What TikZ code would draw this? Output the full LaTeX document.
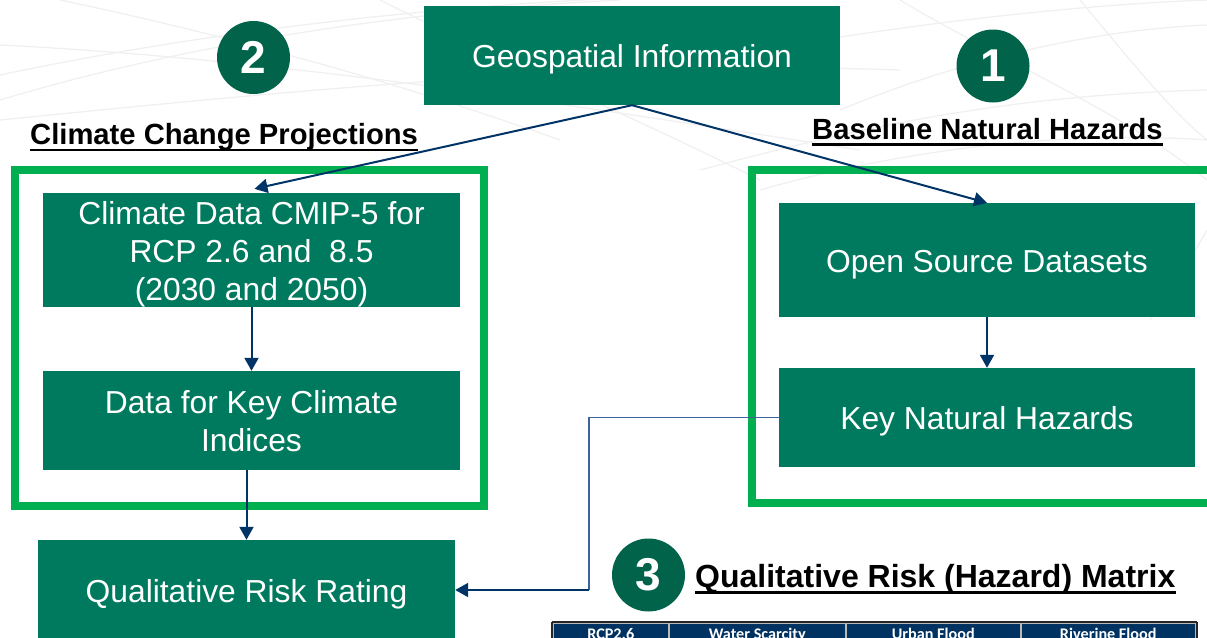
\documentclass[tikz,border=0pt]{standalone}
\usepackage{fontspec}
\setmainfont{Liberation Sans}
\newfontfamily\cellfont{Carlito}
\usetikzlibrary{arrows.meta,calc}

\definecolor{boxgreen}{RGB}{0,122,94}
\definecolor{circlegreen}{RGB}{0,99,74}
\definecolor{framegreen}{RGB}{0,176,80}
\definecolor{navy}{RGB}{0,51,102}
\definecolor{linkblue}{RGB}{60,100,152}
\definecolor{tablenavy}{RGB}{0,50,98}

% box caption: centred lines, set a little lower than the geometric centre
\newcommand\boxtext[1]{\raisebox{-4.5pt}[\height][\depth]{%
  \begin{tabular}{@{}c@{}}#1\end{tabular}}}

\begin{document}
\begin{tikzpicture}[x=1pt,y=-1pt,
  box/.style={fill=boxgreen,text=white,inner sep=0pt,
    font=\fontsize{31.8}{38}\selectfont},
  frame/.style={draw=framegreen,line width=8pt},
  numcirc/.style={circle,fill=circlegreen,minimum size=73pt,inner sep=0pt,
    text=white,font=\bfseries\fontsize{46}{46}\selectfont},
  heading/.style={inner sep=0pt,anchor=base west,font=\bfseries\fontsize{29.2}{35}\selectfont},
  uline/.style={draw=black,line width=2.6pt},
  arr/.style={draw=navy,line width=2pt,-{Triangle[length=13pt,width=14pt]}},
  link/.style={draw=linkblue,line width=1.3pt},
  cell/.style={fill=tablenavy,draw=gray!55,line width=1.5pt,anchor=north west,
    minimum height=23pt,inner sep=0pt,text depth=0pt,text=white,
    font=\cellfont\bfseries\fontsize{16.2}{16}\selectfont},
  swirl/.style={draw=gray!12,line width=1.3pt}]

\useasboundingbox (0,0) rectangle (1207,637);
\clip (0,0) rectangle (1207,637);

% faint sweeping lines in the page background
\draw[swirl] (0,100) .. controls (200,40) and (420,10) .. (620,0);
\draw[swirl] (0,75) .. controls (260,20) and (520,0) .. (700,-5);
\draw[swirl] (0,45) .. controls (300,60) and (600,110) .. (860,150);
\draw[swirl] (60,0) .. controls (250,40) and (420,90) .. (560,140);
\draw[swirl] (0,120) .. controls (300,90) and (600,60) .. (900,70);
\draw[swirl] (380,0) .. controls (500,60) and (640,120) .. (760,180);
\draw[swirl] (820,40) .. controls (950,20) and (1080,5) .. (1207,0);
\draw[swirl] (840,110) .. controls (960,60) and (1090,30) .. (1207,25);
\draw[swirl] (900,0) .. controls (1000,60) and (1120,110) .. (1207,180);
\draw[swirl] (1080,0) .. controls (1130,60) and (1170,110) .. (1207,140);
\draw[swirl] (760,190) .. controls (900,150) and (1060,130) .. (1207,140);
\draw[swirl] (1150,320) .. controls (1180,280) and (1195,250) .. (1207,230);
\draw[swirl] (700,170) .. controls (850,130) and (1000,95) .. (1207,90);

% group frames
\draw[frame] (15,170) rectangle (484,506);
\draw[frame] (752,170) rectangle (1220,503);

% process boxes
\node[box,minimum width=416pt,minimum height=99pt] (geo) at (632,55.5)
  {\boxtext{Geospatial Information}};
\node[box,minimum width=417pt,minimum height=114pt] (cmip) at (251.5,250)
  {\boxtext{Climate Data CMIP-5 for\\RCP 2.6 and~ 8.5\\(2030 and 2050)}};
\node[box,minimum width=417pt,minimum height=99pt] (keyci) at (251.5,420.5)
  {\boxtext{Data for Key Climate\\Indices}};
\node[box,minimum width=417pt,minimum height=100pt] (qrr) at (246.5,590)
  {\boxtext{Qualitative Risk Rating}};
\node[box,minimum width=416pt,minimum height=114pt] (osd) at (987,260)
  {\boxtext{Open Source Datasets}};
\node[box,minimum width=416pt,minimum height=99pt] (knh) at (987,417.5)
  {\boxtext{Key Natural Hazards}};

% numbered markers
\node[numcirc] (n2) at (253.5,57.5) {2};
\node[numcirc] (n1) at (993,66) {1};
\node[numcirc] (n3) at (648.5,575) {3};

% section headings
\node[heading] (h2) at (30,144) {Climate Change Projections};
\draw[uline] ([yshift=-6pt]h2.base west) -- ([yshift=-6pt]h2.base east);
\node[heading] (h1) at (812,139.5) {Baseline Natural Hazards};
\draw[uline] ([yshift=-5pt]h1.base west) -- ([yshift=-5pt]h1.base east);
\node[heading,font=\bfseries\fontsize{32}{38}\selectfont] (h3) at (695,587)
  {Qualitative Risk (Hazard) Matrix};
\draw[uline] ([yshift=-5.5pt]h3.base west) -- ([yshift=-5.5pt]h3.base east);

% connectors
\draw[arr] (geo.south) -- ([yshift=4pt,xshift=3pt]cmip.north);
\draw[arr] (geo.south) -- (osd.north);
\draw[arr] (cmip.south) -- (keyci.north);
\draw[arr] (keyci.south -| qrr.north) -- (qrr.north);
\draw[arr] (osd.south) -- (knh.north);
\coordinate (bend) at (589,590);
\draw[link] (knh.west) -| (bend);
\draw[arr] (bend) -- (qrr.east);

% matrix header row
\node[cell,minimum width=116pt] (c1) at (552,622) {RCP2.6};
\node[cell,minimum width=177pt] (c2) at (668,622) {Water Scarcity};
\node[cell,minimum width=175pt] (c3) at (845,622) {Urban Flood};
\node[cell,minimum width=175pt] (c4) at (1020,622) {Riverine Flood};
\draw[draw=black!85,line width=2pt] (c1.north west) -- (c4.north east);
\draw[draw=black!85,line width=2pt] (c1.north west) -- (c1.south west);
\draw[draw=black!85,line width=2pt] (c4.north east) -- (c4.south east);
\end{tikzpicture}
\end{document}
